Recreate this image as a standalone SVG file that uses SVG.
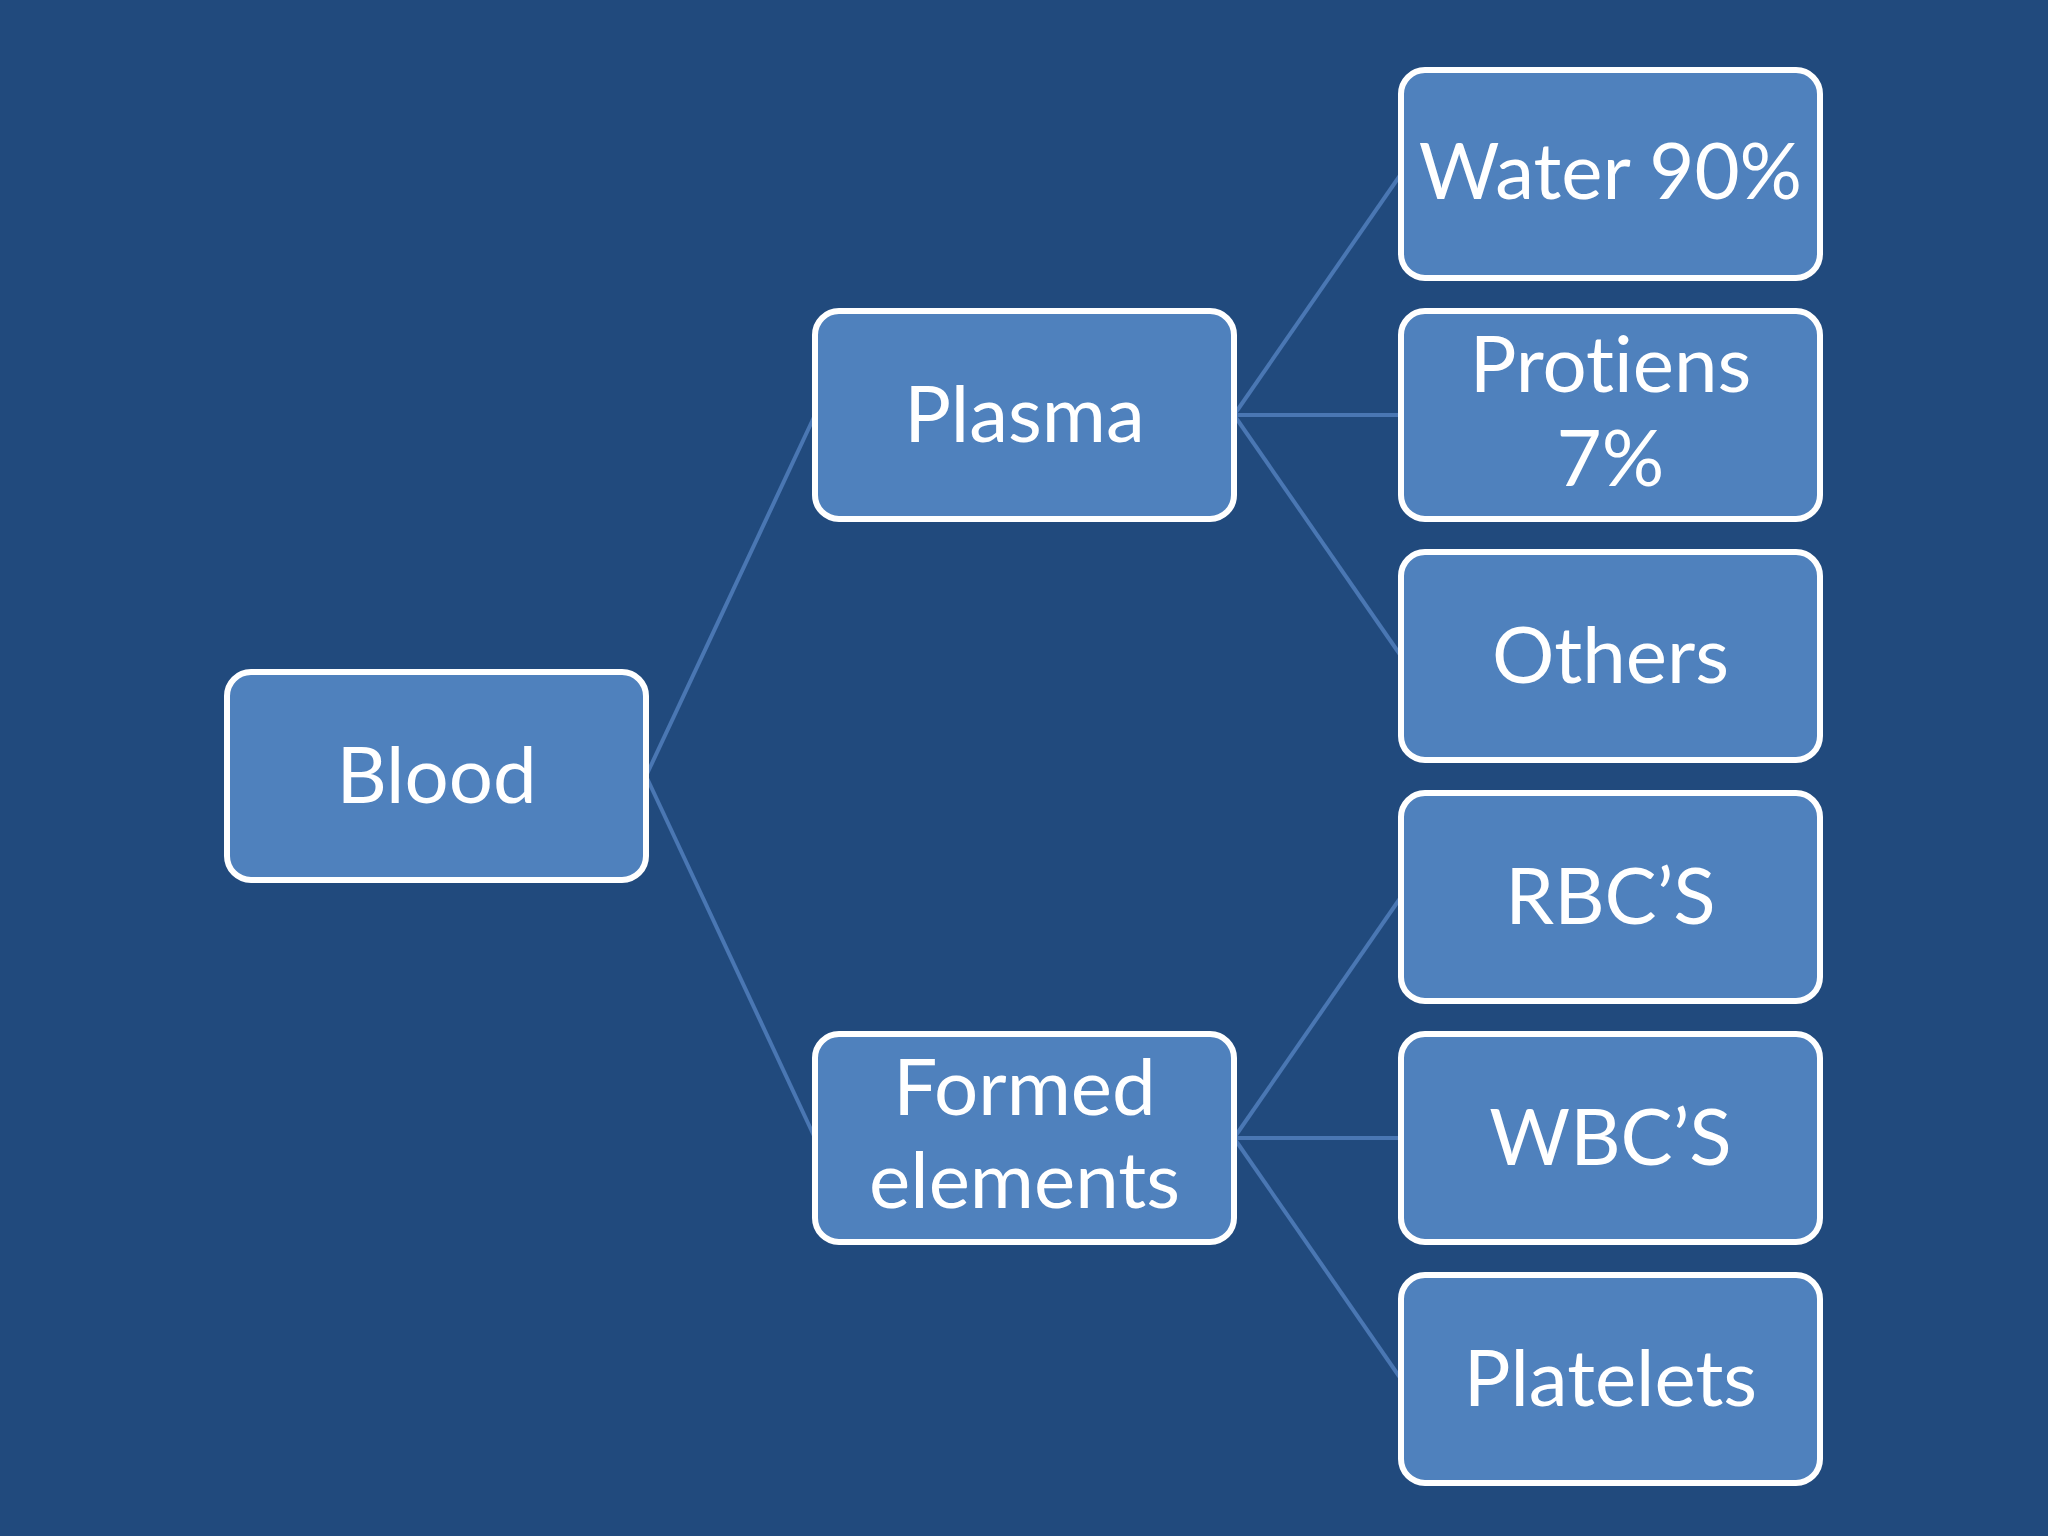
<svg xmlns="http://www.w3.org/2000/svg" width="2048" height="1536" viewBox="0 0 2048 1536">
<style>
.box{fill:#4f81bd;stroke:#ffffff;stroke-width:6}
.lbl{font-family:Lato,"Open Sans","Liberation Sans",sans-serif;font-size:78px;fill:#ffffff;text-anchor:middle;font-variant-ligatures:none;font-feature-settings:"liga" 0,"clig" 0}
.conn{stroke:#4a77b3;stroke-width:4;fill:none}
</style>
<rect width="2048" height="1536" fill="#214a7d"/>
<g id="connectors">
<line class="conn" x1="646" y1="776" x2="815" y2="415"/>
<line class="conn" x1="646" y1="776" x2="815" y2="1138"/>
<line class="conn" x1="1234" y1="415" x2="1401" y2="174"/>
<line class="conn" x1="1234" y1="415" x2="1401" y2="415"/>
<line class="conn" x1="1234" y1="415" x2="1401" y2="656"/>
<line class="conn" x1="1234" y1="1138" x2="1401" y2="897"/>
<line class="conn" x1="1234" y1="1138" x2="1401" y2="1138"/>
<line class="conn" x1="1234" y1="1138" x2="1401" y2="1379"/>
</g>
<g id="blood"><rect class="box" x="227" y="672" width="419" height="208" rx="24"/><text class="lbl" x="436.5" y="803">Blood</text></g>
<g id="plasma"><rect class="box" x="815" y="311" width="419" height="208" rx="24"/><text class="lbl" x="1024.5" y="442">Plasma</text></g>
<g id="formed"><rect class="box" x="815" y="1034" width="419" height="208" rx="24"/><text class="lbl" x="1024.5" y="1115">Formed</text><text class="lbl" x="1024.5" y="1208">elements</text></g>
<g id="water"><rect class="box" x="1401" y="70" width="419" height="208" rx="24"/><text class="lbl" x="1610.5" y="199">Water 90%</text></g>
<g id="protiens"><rect class="box" x="1401" y="311" width="419" height="208" rx="24"/><text class="lbl" x="1610.5" y="392">Protiens</text><text class="lbl" x="1610.5" y="486">7%</text></g>
<g id="others"><rect class="box" x="1401" y="552" width="419" height="208" rx="24"/><text class="lbl" x="1610.5" y="683">Others</text></g>
<g id="rbc"><rect class="box" x="1401" y="793" width="419" height="208" rx="24"/><text class="lbl" x="1610.5" y="924">RBC’S</text></g>
<g id="wbc"><rect class="box" x="1401" y="1034" width="419" height="208" rx="24"/><text class="lbl" x="1610.5" y="1165">WBC’S</text></g>
<g id="platelets"><rect class="box" x="1401" y="1275" width="419" height="208" rx="24"/><text class="lbl" x="1610.5" y="1406">Platelets</text></g>
</svg>
